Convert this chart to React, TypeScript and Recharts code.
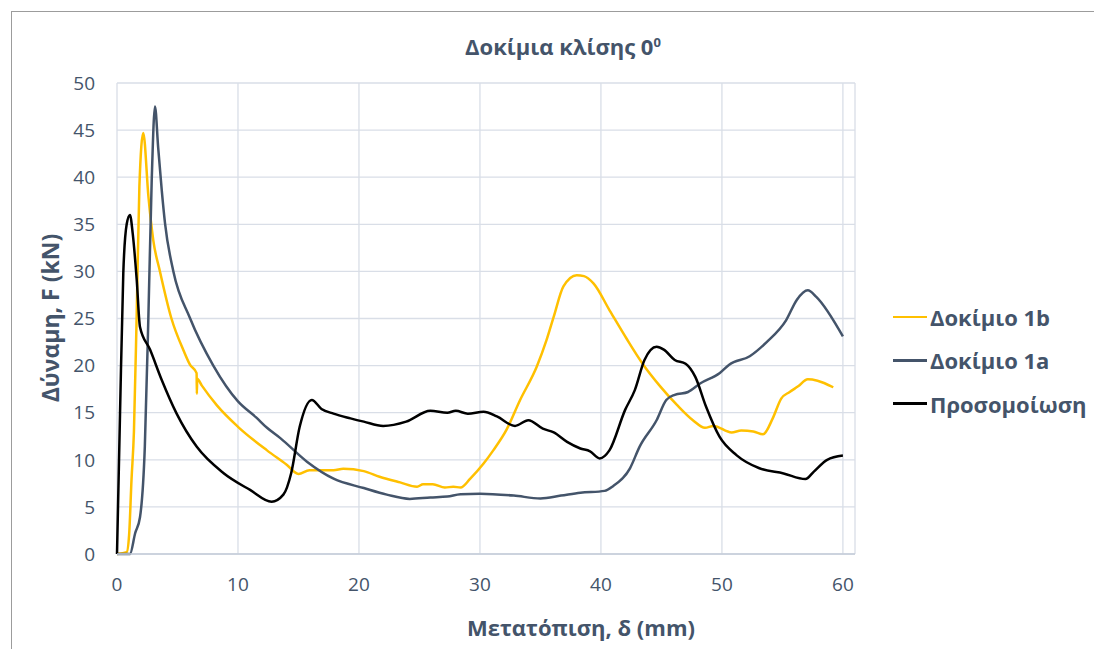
import { CartesianGrid, Line, LineChart, XAxis, YAxis } from "recharts";

const X_TICKS = [0, 10, 20, 30, 40, 50, 60];
const Y_TICKS = [0, 5, 10, 15, 20, 25, 30, 35, 40, 45, 50];

// Δοκίμιο 1b
const spec1bX = [
  0, 0.8, 1.0, 1.2, 1.4, 1.63, 1.85, 2.17, 2.6, 3.0, 3.55, 4.5, 5.5, 6.03, 6.58, 6.6, 6.63, 7.0,
  8.24, 10, 12.4, 14.0, 15.0, 15.9, 17.9, 18.7, 20.4, 21.7, 23.4, 24.8, 25.3, 26.1, 27.1,
  27.8, 28.4, 29.2, 30.3, 31.1, 32.2, 33.3, 34.7, 35.5, 36.1, 36.9, 38.0, 38.6, 39.4, 40.7,
  42.1, 43.5, 44.9, 46.3, 47.6, 48.6, 49.3, 50.8, 51.6, 52.6, 53.4, 54.2, 54.9, 55.6, 56.3,
  57.1, 57.9, 59.2,
];
const spec1bY = [
  0, 0.2, 2, 7.9, 13, 25.6, 39, 44.7, 37.9, 33.3, 30, 25, 21.6, 20.1, 19.2, 17.0, 18.6, 17.9,
  15.8, 13.5, 11.0, 9.5, 8.5, 8.9, 8.9, 9.05, 8.8, 8.2, 7.6, 7.15, 7.4, 7.4, 7.05,
  7.15, 7.05, 8.0, 9.6, 11.0, 13.2, 16.3, 19.9, 22.7, 25.2, 28.4, 29.6, 29.5, 28.7, 25.9,
  22.9, 20.1, 17.8, 15.8, 14.2, 13.4, 13.6, 12.9, 13.1, 13.0, 12.7, 14.4, 16.5, 17.2, 17.8,
  18.55, 18.4, 17.7,
];

// Δοκίμιο 1a
const spec1aX = [
  0, 1.07, 1.5, 1.9, 2.3, 2.6, 2.87, 3.14, 3.4, 3.7, 3.97, 4.66, 6.03, 7.96, 10, 11.5, 12.4,
  13.5, 15.7, 17.9, 20.4, 22.3, 24.2, 25.9, 27.3, 28.4, 30.0, 32.8, 35.0, 36.7, 38.3, 40.3,
  41.0, 42.4, 43.2, 44.6, 45.4, 46.1, 47.2, 48.2, 49.8, 50.6, 52.3, 53.7, 55.3, 56.2, 57.1,
  57.8, 60,
];
const spec1aY = [
  0, 0, 2.2, 3.9, 11.4, 25.5, 39.7, 47.5, 43.2, 38.6, 35.1, 30.0, 25.05, 20, 16.2, 14.5, 13.4,
  12.3, 9.8, 8.0, 7.0, 6.3, 5.85, 6.0, 6.1, 6.35, 6.4, 6.2, 5.9, 6.2, 6.5, 6.7,
  7.2, 9.1, 11.4, 14.2, 16.35, 16.9, 17.2, 18.1, 19.2, 20.1, 21.0, 22.5, 24.8, 27.0, 28.0,
  27.3, 23.1,
];

// Προσομοίωση
const simX = [
  0, 0.25, 0.52, 0.8, 1.07, 1.3, 1.63, 1.9, 2.73, 3.69, 4.93, 6.58, 8.79, 11.0, 12.78, 13.75,
  14.4, 15.1, 16.1, 16.9, 17.9, 19.3, 20.4, 22.0, 23.9, 25.9, 27.3, 28.0, 29.0, 30.3, 31.4,
  32.9, 34.0, 35.2, 36.1, 37.2, 38.3, 39.1, 39.9, 40.7, 42.0, 42.8, 43.6, 44.6, 45.2, 46.1,
  47.0, 47.8, 48.7, 49.8, 51.2, 53.1, 55.1, 56.9, 57.6, 58.7, 60,
];
const simY = [
  0, 14.9, 29.8, 35, 36.0, 34, 29.1, 24.1, 21.7, 18.5, 14.9, 11.4, 8.6, 6.8, 5.55, 6.3,
  8.6, 13.5, 16.35, 15.4, 14.9, 14.4, 14.05, 13.6, 14.05, 15.2, 15.0, 15.2, 14.9, 15.1, 14.6,
  13.6, 14.2, 13.3, 12.9, 11.9, 11.2, 10.9, 10.15, 11.0, 15.3, 17.4, 20.6, 22.0, 21.7, 20.6,
  20.2, 18.8, 15.6, 12.45, 10.5, 9.1, 8.55, 7.95, 8.75, 10.0, 10.45,
];

const toPoints = (xs: number[], ys: number[]) => xs.map((x, i) => ({ x, y: ys[i] }));

const SERIES = [
  { name: "Δοκίμιο 1b", color: "#ffc000", data: toPoints(spec1bX, spec1bY) },
  { name: "Δοκίμιο 1a", color: "#44546a", data: toPoints(spec1aX, spec1aY) },
  { name: "Προσομοίωση", color: "#000000", data: toPoints(simX, simY) },
];

const TEXT = "#44546a";
const FONT = "'Open Sans', sans-serif";

export default function App() {
  return (
    <div
      style={{
        position: "absolute",
        left: 0,
        top: 0,
        width: 1094,
        height: 649,
        overflow: "hidden",
        background: "#fff",
        fontFamily: FONT,
      }}
    >
      <div
        style={{
          position: "absolute",
          left: 11,
          top: 11,
          width: 1200,
          height: 800,
          borderTop: "1px solid #9c9c9c",
          borderLeft: "1px solid #9c9c9c",
        }}
      />
      <LineChart
        width={1094}
        height={649}
        margin={{ top: 83, right: 239, bottom: 0, left: 0 }}
        style={{ position: "absolute", left: 0, top: 0 }}
      >
        <CartesianGrid stroke="#d9dee7" strokeWidth={1.3} />
        <XAxis
          dataKey="x"
          type="number"
          domain={[0, 61]}
          ticks={X_TICKS}
          height={95}
          tickLine={false}
          axisLine={{ stroke: "#c5cdd9", strokeWidth: 1.5 }}
          tickMargin={18}
          tick={{ fontSize: 19, fill: TEXT, fontFamily: FONT }}
        />
        <YAxis
          type="number"
          domain={[0, 50]}
          ticks={Y_TICKS}
          width={117}
          tickLine={false}
          axisLine={false}
          tickMargin={16}
          tick={{ fontSize: 19, fill: TEXT, fontFamily: FONT }}
        />
        {SERIES.map((s) => (
          <Line
            key={s.name}
            data={s.data}
            dataKey="y"
            name={s.name}
            type="monotone"
            stroke={s.color}
            strokeWidth={2.5}
            dot={false}
            isAnimationActive={false}
          />
        ))}
      </LineChart>
      <div
        style={{
          position: "absolute",
          left: 363,
          width: 400,
          top: 27,
          textAlign: "center",
          fontSize: 22,
          fontWeight: 700,
          color: TEXT,
          lineHeight: "30px",
        }}
      >
        Δοκίμια κλίσης 0<sup style={{ fontSize: 13 }}>0</sup>
      </div>
      <div
        style={{
          position: "absolute",
          left: 381,
          width: 400,
          top: 611,
          textAlign: "center",
          fontSize: 22,
          fontWeight: 700,
          color: TEXT,
          lineHeight: "32px",
        }}
      >
        Μετατόπιση, δ (mm)
      </div>
      <div
        style={{
          position: "absolute",
          left: 50 - 150,
          width: 300,
          top: 318 - 16,
          textAlign: "center",
          fontSize: 23,
          fontWeight: 700,
          color: TEXT,
          lineHeight: "32px",
          transform: "rotate(-90deg)",
        }}
      >
        Δύναμη, F (kN)
      </div>
      {SERIES.map((s, i) => (
        <div
          key={s.name}
          style={{
            position: "absolute",
            left: 893,
            top: 317 + i * 43.3 - 16,
            height: 32,
            display: "flex",
            alignItems: "center",
            fontSize: 22,
            fontWeight: 700,
            color: TEXT,
            whiteSpace: "nowrap",
          }}
        >
          <span style={{ width: 34, height: 2.5, background: s.color, marginRight: 3 }} />
          {s.name}
        </div>
      ))}
    </div>
  );
}
